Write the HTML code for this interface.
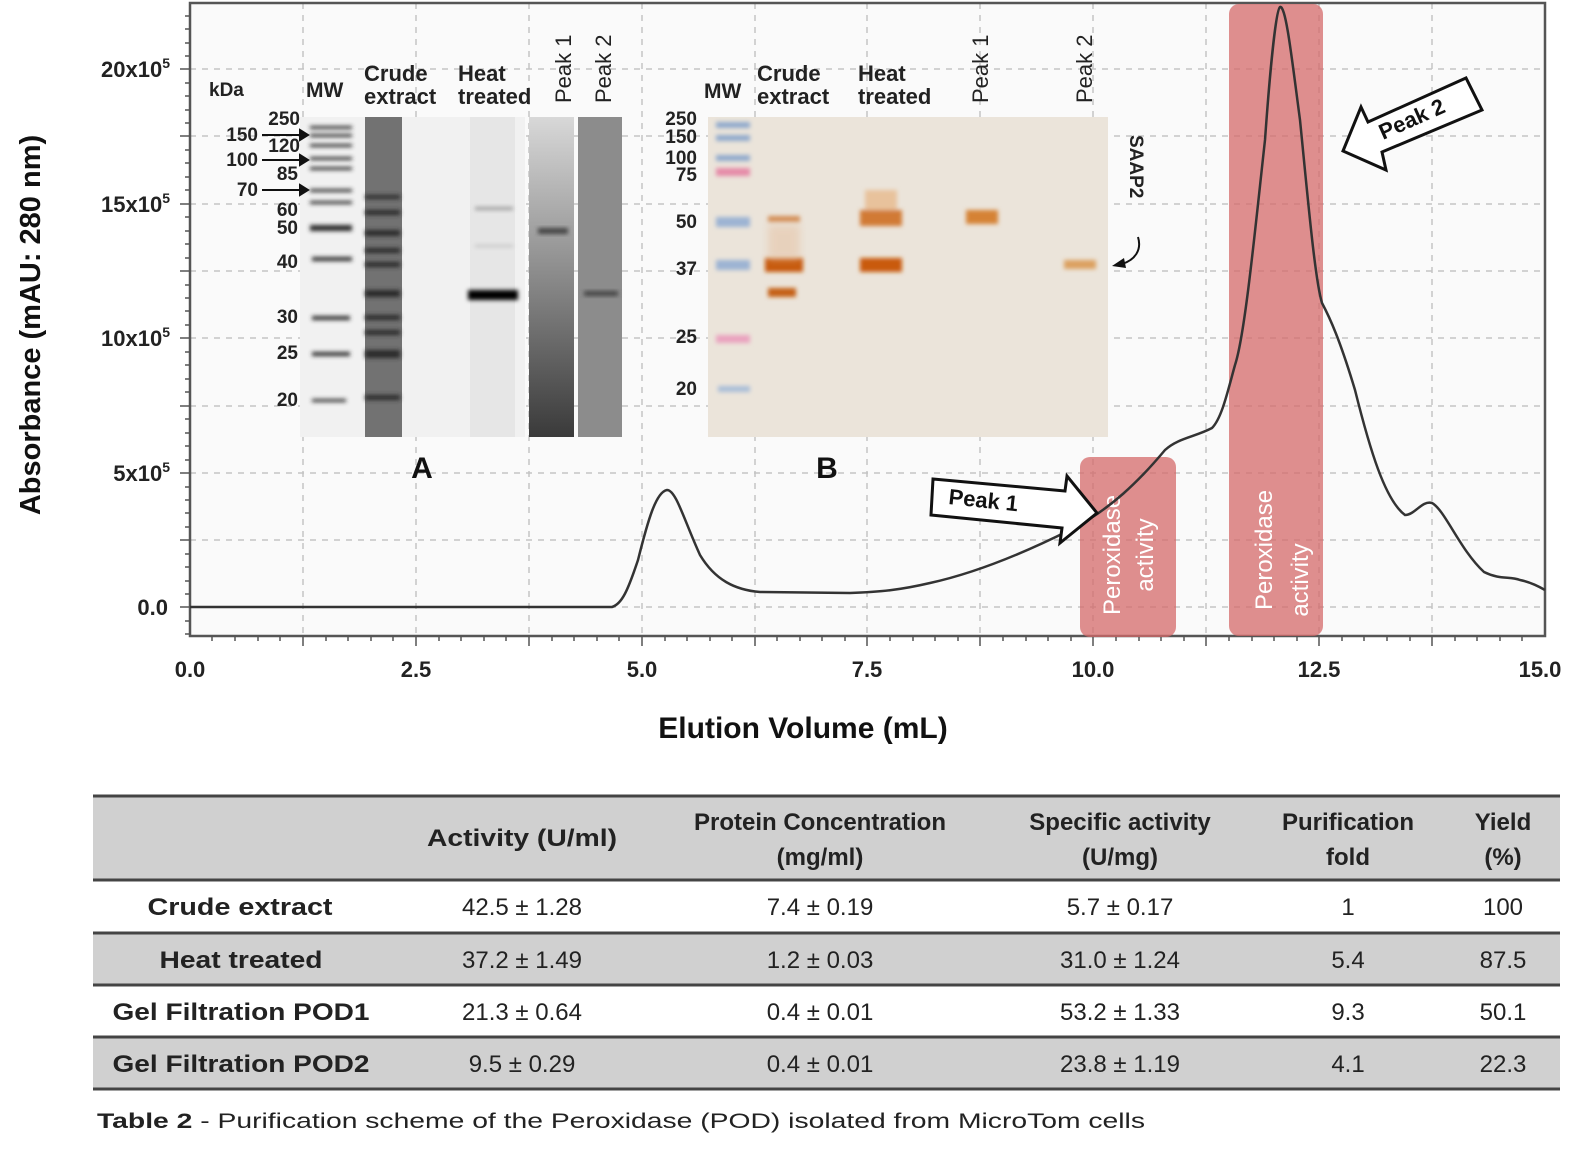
<!DOCTYPE html>
<html><head><meta charset="utf-8"><style>
html,body{margin:0;padding:0;background:#fff;}
svg{display:block;}
text{font-family:"Liberation Sans",Arial,sans-serif;}
</style></head><body>
<svg width="1594" height="1158" viewBox="0 0 1594 1158" xmlns="http://www.w3.org/2000/svg">
<defs>
<filter id="bl" x="-20%" y="-50%" width="140%" height="200%"><feGaussianBlur stdDeviation="2"/></filter>
<filter id="bl2" x="-20%" y="-50%" width="140%" height="200%"><feGaussianBlur stdDeviation="4"/></filter>
<linearGradient id="p1g" x1="0" y1="0" x2="0" y2="1"><stop offset="0" stop-color="#d8d8d8"/><stop offset="0.5" stop-color="#8a8a8a"/><stop offset="1" stop-color="#3a3a3a"/></linearGradient>
</defs>
<rect x="190" y="3" width="1355" height="633" fill="#fafafa"/>
<g stroke="#c4c4c4" stroke-width="1.5" stroke-dasharray="6,6">
<line x1="303" y1="3" x2="303" y2="636"/><line x1="416" y1="3" x2="416" y2="636"/><line x1="529" y1="3" x2="529" y2="636"/><line x1="642" y1="3" x2="642" y2="636"/><line x1="755" y1="3" x2="755" y2="636"/><line x1="867" y1="3" x2="867" y2="636"/><line x1="980" y1="3" x2="980" y2="636"/><line x1="1093" y1="3" x2="1093" y2="636"/><line x1="1206" y1="3" x2="1206" y2="636"/><line x1="1319" y1="3" x2="1319" y2="636"/><line x1="1432" y1="3" x2="1432" y2="636"/>
<line x1="190" y1="69" x2="1545" y2="69"/><line x1="190" y1="136" x2="1545" y2="136"/><line x1="190" y1="204" x2="1545" y2="204"/><line x1="190" y1="271" x2="1545" y2="271"/><line x1="190" y1="338" x2="1545" y2="338"/><line x1="190" y1="406" x2="1545" y2="406"/><line x1="190" y1="473" x2="1545" y2="473"/><line x1="190" y1="540" x2="1545" y2="540"/><line x1="190" y1="607" x2="1545" y2="607"/>
</g>
<rect x="190" y="3" width="1355" height="633" fill="none" stroke="#555" stroke-width="2.5"/>
<g stroke="#555" stroke-width="1.5">
<path d="M185 16h5M185 29h5M185 43h5M185 56h5M185 83h5M185 96h5M185 110h5M185 123h5M185 150h5M185 163h5M185 177h5M185 190h5M185 217h5M185 231h5M185 244h5M185 258h5M185 285h5M185 298h5M185 311h5M185 325h5M185 352h5M185 365h5M185 379h5M185 392h5M185 419h5M185 433h5M185 446h5M185 460h5M185 487h5M185 500h5M185 513h5M185 527h5M185 554h5M185 567h5M185 581h5M185 594h5M185 621h5M185 634h5"/>
<path d="M180 69h10M180 136h10M180 204h10M180 271h10M180 338h10M180 406h10M180 473h10M180 540h10M180 607h10"/>
</g>
<g stroke="#555" stroke-width="1.5">
<path d="M212 636v5M235 636v5M258 636v5M280 636v5M326 636v5M348 636v5M371 636v5M393 636v5M439 636v5M461 636v5M484 636v5M506 636v5M552 636v5M574 636v5M597 636v5M619 636v5M665 636v5M687 636v5M710 636v5M732 636v5M777 636v5M800 636v5M822 636v5M845 636v5M890 636v5M913 636v5M935 636v5M958 636v5M1003 636v5M1026 636v5M1048 636v5M1071 636v5M1116 636v5M1139 636v5M1161 636v5M1184 636v5M1229 636v5M1252 636v5M1274 636v5M1297 636v5M1342 636v5M1364 636v5M1387 636v5M1410 636v5M1455 636v5M1477 636v5M1500 636v5M1522 636v5"/>
<path d="M303 636v10M416 636v10M529 636v10M642 636v10M755 636v10M867 636v10M980 636v10M1093 636v10M1206 636v10M1319 636v10M1432 636v10"/>
</g>
<g font-size="22" font-weight="bold" fill="#222" text-anchor="end">
<text x="170" y="77">20x10<tspan font-size="14" dy="-9">5</tspan></text>
<text x="170" y="212">15x10<tspan font-size="14" dy="-9">5</tspan></text>
<text x="170" y="346">10x10<tspan font-size="14" dy="-9">5</tspan></text>
<text x="170" y="481">5x10<tspan font-size="14" dy="-9">5</tspan></text>
<text x="168" y="615">0.0</text>
</g>
<g font-size="22" font-weight="bold" fill="#222" text-anchor="middle">
<text x="190" y="677">0.0</text><text x="416" y="677">2.5</text><text x="642" y="677">5.0</text><text x="867" y="677">7.5</text><text x="1093" y="677">10.0</text><text x="1319" y="677">12.5</text><text x="1540" y="677">15.0</text>
</g>
<text x="803" y="738" font-size="30" font-weight="bold" fill="#111" text-anchor="middle">Elution Volume (mL)</text>
<text transform="translate(40,325) rotate(-90)" font-size="29" font-weight="bold" fill="#111" text-anchor="middle">Absorbance (mAU: 280 nm)</text>

<!-- Gel A -->
<rect x="300" y="117" width="225" height="320" fill="#f1f1f1"/>
<rect x="365" y="117" width="37" height="320" fill="#5c5c5c" opacity="0.85"/>
<rect x="470" y="117" width="45" height="320" fill="#e6e6e6"/>
<g fill="#2a2a2a" filter="url(#bl)">
<rect x="310" y="126" width="42" height="3"/><rect x="310" y="134" width="42" height="3"/><rect x="310" y="144" width="42" height="3"/><rect x="310" y="157" width="42" height="3"/><rect x="310" y="167" width="42" height="3"/><rect x="310" y="189" width="42" height="3"/><rect x="310" y="201" width="42" height="3"/><rect x="310" y="225" width="42" height="6"/><rect x="312" y="257" width="40" height="4"/><rect x="312" y="316" width="38" height="4"/><rect x="312" y="352" width="38" height="4"/><rect x="312" y="399" width="34" height="3"/>
<rect x="365" y="195" width="35" height="4"/><rect x="365" y="210" width="35" height="5"/><rect x="365" y="230" width="35" height="6"/><rect x="365" y="248" width="35" height="5"/><rect x="365" y="262" width="35" height="5"/><rect x="365" y="290" width="35" height="7"/><rect x="365" y="315" width="35" height="5"/><rect x="365" y="330" width="35" height="5"/><rect x="365" y="350" width="35" height="8"/><rect x="365" y="395" width="35" height="5"/>
<rect x="468" y="290" width="50" height="10" fill="#000"/>
<rect x="475" y="207" width="38" height="3" fill="#999"/><rect x="475" y="245" width="38" height="2" fill="#bbb"/>
</g>
<rect x="529" y="117" width="45" height="320" fill="url(#p1g)"/>
<rect x="538" y="228" width="30" height="6" fill="#444" filter="url(#bl)"/>
<rect x="578" y="117" width="44" height="320" fill="#8c8c8c"/>
<rect x="584" y="291" width="34" height="5" fill="#444" filter="url(#bl)"/>
<g font-size="19" font-weight="bold" fill="#222">
<text x="209" y="96">kDa</text><text x="306" y="97" font-size="21">MW</text>
<text x="364" y="81" font-size="22">Crude</text><text x="364" y="104" font-size="22">extract</text>
<text x="458" y="81" font-size="22">Heat</text><text x="458" y="104" font-size="22">treated</text>
<text transform="translate(571,103) rotate(-90)" font-size="22" font-weight="normal">Peak 1</text>
<text transform="translate(611,103) rotate(-90)" font-size="22" font-weight="normal">Peak 2</text>
<g text-anchor="end">
<text x="300" y="125">250</text><text x="258" y="141">150</text><text x="300" y="152">120</text><text x="258" y="166">100</text><text x="298" y="180">85</text><text x="258" y="196">70</text><text x="298" y="216">60</text><text x="298" y="234">50</text><text x="298" y="268">40</text><text x="298" y="323">30</text><text x="298" y="359">25</text><text x="298" y="406">20</text>
</g>
</g>
<g stroke="#111" stroke-width="2" fill="#111">
<line x1="262" y1="135" x2="300" y2="135"/><path d="M300 130l8 5-8 5z"/>
<line x1="262" y1="160" x2="300" y2="160"/><path d="M300 155l8 5-8 5z"/>
<line x1="262" y1="190" x2="300" y2="190"/><path d="M300 185l8 5-8 5z"/>
</g>
<text x="422" y="478" font-size="30" font-weight="bold" fill="#111" text-anchor="middle">A</text>

<!-- Gel B -->
<rect x="708" y="117" width="400" height="320" fill="#ebe4da"/>
<g filter="url(#bl)">
<rect x="716" y="122" width="34" height="6" fill="#8fa9cc"/><rect x="716" y="135" width="34" height="6" fill="#8fa9cc"/><rect x="716" y="155" width="34" height="6" fill="#8fa9cc"/><rect x="716" y="168" width="34" height="8" fill="#e58aa8"/><rect x="716" y="217" width="34" height="10" fill="#9cb3d3"/><rect x="716" y="260" width="34" height="10" fill="#9cb3d3"/><rect x="716" y="335" width="34" height="8" fill="#eaa3bf"/><rect x="718" y="386" width="32" height="6" fill="#a8bdd8"/>
<rect x="768" y="216" width="32" height="6" fill="#d38d55"/><rect x="765" y="258" width="38" height="14" fill="#c75a10"/><rect x="768" y="288" width="28" height="9" fill="#c56018"/>
<rect x="860" y="210" width="42" height="16" fill="#d17a35"/><rect x="860" y="258" width="42" height="14" fill="#c95a10"/><rect x="865" y="190" width="32" height="20" fill="#e8c29c"/>
<rect x="966" y="210" width="32" height="14" fill="#d58236"/>
<rect x="1064" y="260" width="32" height="9" fill="#dba060"/>
</g>
<rect x="768" y="225" width="32" height="35" fill="#e5c0a0" opacity="0.5" filter="url(#bl2)"/>
<g font-size="22" fill="#222" font-weight="bold">
<text x="704" y="98" font-size="21">MW</text>
<text x="757" y="81">Crude</text><text x="757" y="104">extract</text>
<text x="858" y="81">Heat</text><text x="858" y="104">treated</text>
<text transform="translate(988,103) rotate(-90)" font-weight="normal">Peak 1</text>
<text transform="translate(1092,103) rotate(-90)" font-weight="normal">Peak 2</text>
<text transform="translate(1130,135) rotate(90)" font-size="19">SAAP2</text>
</g>
<g font-size="19" font-weight="bold" fill="#222" text-anchor="end">
<text x="697" y="125">250</text><text x="697" y="143">150</text><text x="697" y="164">100</text><text x="697" y="181">75</text><text x="697" y="228">50</text><text x="697" y="275">37</text><text x="697" y="343">25</text><text x="697" y="395">20</text>
</g>
<path d="M1138 237 C1142 250 1135 260 1122 264" fill="none" stroke="#111" stroke-width="2"/>
<path d="M1112 266l12-8 2 10z" fill="#111"/>
<text x="827" y="478" font-size="30" font-weight="bold" fill="#111" text-anchor="middle">B</text>

<rect x="1080" y="457" width="96" height="180" rx="10" fill="#d46a6a" opacity="0.75"/>
<rect x="1229" y="4" width="94" height="632" rx="10" fill="#d46a6a" opacity="0.75"/>
<g fill="#fff" font-size="24" text-anchor="middle">
<text transform="translate(1120,555) rotate(-90)">Peroxidase</text>
<text transform="translate(1153,555) rotate(-90)">activity</text>
<text transform="translate(1272,550) rotate(-90)">Peroxidase</text>
<text transform="translate(1308,580) rotate(-90)">activity</text>
</g>

<path d="M190 607 L612 607 C622 604 628 590 638 560 C648 520 656 492 667 490 C676 490 684 520 700 555 C715 580 735 590 760 592 L850 593 C880 592 900 590 930 583 C980 572 1030 550 1070 530 C1110 510 1140 480 1165 450 C1178 438 1195 437 1212 428 C1222 418 1228 390 1235 365 C1245 335 1255 230 1265 140 C1270 70 1276 10 1280 7 C1286 5 1292 60 1300 120 C1308 200 1315 280 1322 303 C1330 318 1340 340 1355 390 C1370 450 1385 500 1405 515 C1415 515 1422 500 1432 503 C1445 510 1460 550 1484 572 C1500 580 1510 576 1520 580 C1530 582 1538 586 1545 590" fill="none" stroke="#333" stroke-width="2.5"/>

<polygon points="933,479 1065,491 1067,476 1097,513 1060,543 1062,528 931,515" fill="#fff" stroke="#111" stroke-width="3"/>
<text transform="translate(948,504) rotate(6)" font-size="22" font-weight="bold" fill="#111">Peak 1</text>
<polygon points="1343,151 1361,107 1368,122 1466,78 1482,110 1382,152 1386,170" fill="#fff" stroke="#111" stroke-width="3"/>
<text transform="translate(1383,140) rotate(-24)" font-size="22" font-weight="bold" fill="#111">Peak 2</text>

<rect x="93" y="796" width="1467" height="84" fill="#d0d0d0"/>
<rect x="93" y="933" width="1467" height="52" fill="#d0d0d0"/>
<rect x="93" y="1037" width="1467" height="52" fill="#d0d0d0"/>
<g stroke="#444" stroke-width="3">
<line x1="93" y1="796" x2="1560" y2="796"/><line x1="93" y1="880" x2="1560" y2="880"/><line x1="93" y1="933" x2="1560" y2="933"/><line x1="93" y1="985" x2="1560" y2="985"/><line x1="93" y1="1037" x2="1560" y2="1037"/><line x1="93" y1="1089" x2="1560" y2="1089"/>
</g>
<g font-size="24" font-weight="bold" fill="#222" text-anchor="middle">
<text x="522" y="846" textLength="190" lengthAdjust="spacingAndGlyphs">Activity  (U/ml)</text>
<text x="820" y="830">Protein Concentration</text><text x="820" y="865">(mg/ml)</text>
<text x="1120" y="830">Specific activity</text><text x="1120" y="865">(U/mg)</text>
<text x="1348" y="830">Purification</text><text x="1348" y="865">fold</text>
<text x="1503" y="830">Yield</text><text x="1503" y="865">(%)</text>
<text x="240" y="915" textLength="185" lengthAdjust="spacingAndGlyphs">Crude extract</text>
<text x="241" y="968" textLength="163" lengthAdjust="spacingAndGlyphs">Heat treated</text>
<text x="241" y="1020" textLength="257" lengthAdjust="spacingAndGlyphs">Gel Filtration POD1</text>
<text x="241" y="1072" textLength="257" lengthAdjust="spacingAndGlyphs">Gel Filtration POD2</text>
</g>
<g font-size="24" fill="#222" text-anchor="middle">
<text x="522" y="915">42.5 ± 1.28</text><text x="820" y="915">7.4 ± 0.19</text><text x="1120" y="915">5.7 ± 0.17</text><text x="1348" y="915">1</text><text x="1503" y="915">100</text>
<text x="522" y="968">37.2 ± 1.49</text><text x="820" y="968">1.2 ± 0.03</text><text x="1120" y="968">31.0 ± 1.24</text><text x="1348" y="968">5.4</text><text x="1503" y="968">87.5</text>
<text x="522" y="1020">21.3 ± 0.64</text><text x="820" y="1020">0.4 ± 0.01</text><text x="1120" y="1020">53.2 ± 1.33</text><text x="1348" y="1020">9.3</text><text x="1503" y="1020">50.1</text>
<text x="522" y="1072">9.5 ± 0.29</text><text x="820" y="1072">0.4 ± 0.01</text><text x="1120" y="1072">23.8 ± 1.19</text><text x="1348" y="1072">4.1</text><text x="1503" y="1072">22.3</text>
</g>
<text x="97" y="1128" font-size="21" fill="#222" textLength="1048" lengthAdjust="spacingAndGlyphs"><tspan font-weight="bold">Table 2</tspan> - Purification  scheme  of the  Peroxidase  (POD)  isolated  from  MicroTom  cells</text>
</svg>
</body></html>
